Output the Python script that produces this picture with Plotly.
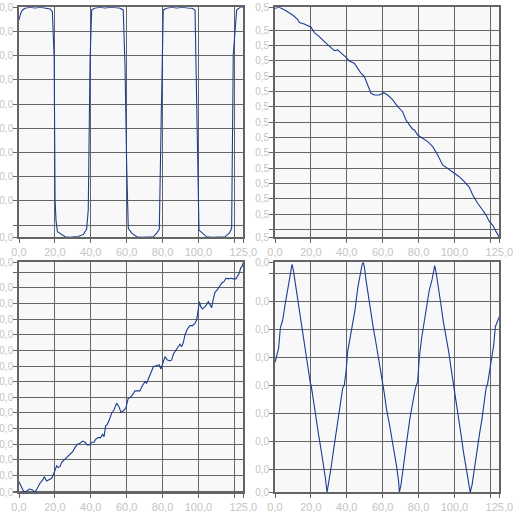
import plotly.graph_objects as go

# ---------------- data ----------------
# Top-left: square wave
sq_x = [0, 1, 2, 3.3, 6, 9, 12, 15, 17.3, 18.6, 19.6, 20.1, 20.6, 21.4, 23, 25.7, 28, 31, 33, 35.9,
        37.7, 38.6, 39.2, 39.6, 40.5, 42, 45, 48, 51, 54, 56, 58.1, 59.1, 60.0, 60.9, 62.8, 65.6, 68,
        71, 74.9, 76.7, 78.2, 79.3, 79.9, 80.4, 82.3, 85, 88, 91, 94, 96.5, 98.1, 99.0, 99.9, 100.3,
        102.7, 104.6, 108, 111, 114.8, 117.2, 118.5, 119.4, 120.4, 121.3, 123.2, 125]
sq_y = [8.98, 9.27, 9.39, 9.46, 9.5, 9.47, 9.5, 9.47, 9.43, 9.32, 7.41, 1.54, 0.72, 0.23, 0.14, 0.02,
        0.0, 0.01, 0.03, 0.12, 0.34, 1.13, 4.4, 7.32, 9.39, 9.46, 9.5, 9.47, 9.5, 9.47, 9.47, 9.39,
        7.03, 3.0, 0.37, 0.17, 0.02, 0.0, 0.02, 0.02, 0.17, 0.34, 5.13, 8.36, 9.39, 9.46, 9.5, 9.47,
        9.5, 9.47, 9.46, 9.39, 5.8, 1.0, 0.3, 0.14, 0.02, 0.0, 0.02, 0.02, 0.17, 0.37, 7.53, 8.65,
        9.39, 9.5, 9.5]

# Top-right: decreasing curve
dec_x = [0, 2.4, 6.1, 9.8, 12.6, 13.6, 16.3, 20.1, 21.9, 24.7, 27.5, 30.3, 33.1, 34.9, 37.3, 39.6,
         41.4, 44.2, 46.1, 47.9, 49.8, 51.6, 53.5, 55.4, 58.1, 60.6, 62.8, 65.6, 68.4, 71.1, 73.0,
         74.9, 76.7, 77.7, 79.5, 82.3, 85.1, 87.9, 90.7, 93.4, 96.2, 99.9, 102.7, 105.5, 108.3,
         110.2, 112.9, 115.7, 117.6, 119.5, 121.3, 123.2, 125]
dec_y = [14.94, 15.0, 14.78, 14.5, 14.22, 14.0, 13.91, 13.7, 13.35, 13.09, 12.76, 12.48, 12.17,
         12.22, 12.0, 11.74, 11.5, 11.35, 11.02, 10.7, 10.48, 9.93, 9.39, 9.28, 9.28, 9.43, 9.28,
         8.96, 8.52, 8.19, 7.65, 7.33, 7.05, 7.0, 6.67, 6.46, 6.24, 5.91, 5.37, 4.72, 4.5, 4.21,
         3.95, 3.63, 3.26, 2.76, 2.22, 1.78, 1.45, 1.02, 0.80, 0.37, 0.0]

# Bottom-left: noisy ramp
ramp_x = [0, 1.5, 2.8, 4.3, 5.8, 7.6, 8.9, 10.2, 11.7, 13.2, 14.1, 15.4, 16.9, 18.2, 19.1, 20.1,
          21.0, 21.9, 22.8, 23.8, 25.1, 26.2, 27.5, 28.8, 29.9, 31.2, 32.5, 34.0, 35.5, 36.8, 38.1,
          39.2, 40.5, 41.8, 42.9, 44.2, 45.5, 46.6, 47.4, 48.3, 49.2, 50.3, 51.6, 52.9, 54.4, 55.7,
          56.8, 58.1, 59.6, 60.9, 61.9, 63.3, 64.6, 65.9, 67.4, 68.4, 69.3, 70.2, 71.1, 72.1, 73.0,
          73.9, 74.9, 76.7, 78.2, 79.1, 80.1, 81.4, 82.7, 84.2, 85.1, 86.0, 87.5, 88.8, 89.7, 90.7,
          91.6, 92.5, 93.8, 95.3, 96.8, 98.1, 99.0, 99.9, 100.5, 101.3, 102.2, 103.1, 104.2, 105.5,
          106.4, 107.4, 108.3, 109.2, 110.5, 111.6, 112.9, 114.2, 115.4, 116.7, 118.0, 119.5,
          121.0, 121.7, 122.8, 123.5, 124.3, 125]
ramp_y = [0.68, 0.26, 0.0, 0.08, 0.21, 0.15, 0.0, 0.26, 0.58, 0.79, 1.0, 0.72, 0.79, 0.9, 1.11,
          1.43, 1.70, 1.58, 1.64, 1.92, 2.07, 2.18, 2.34, 2.5, 2.6, 2.86, 3.07, 3.14, 3.28, 3.2,
          3.03, 3.03, 3.2, 3.2, 3.41, 3.5, 3.5, 3.71, 3.56, 4.26, 4.35, 4.63, 5.06, 5.27, 5.70,
          5.48, 5.12, 5.2, 5.42, 6.02, 6.06, 6.23, 6.49, 6.49, 6.49, 6.76, 6.92, 7.08, 6.98, 7.25,
          7.51, 7.83, 8.04, 8.11, 8.15, 7.89, 8.26, 8.68, 8.47, 8.41, 8.47, 8.83, 9.11, 9.32, 9.48,
          9.32, 9.6, 10.07, 10.45, 10.67, 10.67, 10.82, 11.03, 11.67, 12.2, 11.88, 11.74, 11.82,
          11.95, 12.2, 12.04, 11.82, 12.38, 12.8, 12.95, 13.16, 13.38, 13.48, 13.7, 13.66, 13.7,
          13.66, 13.66, 13.82, 14.03, 14.35, 14.46, 14.72]

# Bottom-right: triangle wave
tri_x = [0, 0.9, 2.0, 3.0, 4.3, 5.6, 7.0, 8.0, 8.9, 9.5, 10.2, 11.7, 13.2, 14.5, 15.8, 17.3, 18.6,
         19.7, 20.1, 21.4, 22.8, 24.3, 26.0, 27.1, 28.1, 29.0, 29.9, 31.2, 32.5, 34.0, 35.5, 36.8,
         37.7, 38.6, 39.6, 40.5, 41.8, 43.3, 44.6, 46.1, 47.4, 48.5, 49.2, 49.8, 50.7, 52.2, 53.5,
         54.8, 56.3, 57.8, 59.1, 60.0, 60.9, 62.2, 63.7, 65.2, 66.5, 67.8, 68.9, 69.3, 70.2, 71.1,
         72.6, 73.9, 75.2, 76.7, 78.2, 79.5, 80.4, 81.7, 83.2, 84.5, 86.0, 87.5, 88.4, 89.0, 89.7,
         91.2, 92.5, 93.8, 95.3, 96.8, 98.1, 99.6, 100.9, 102.2, 103.7, 105.0, 106.4, 107.7, 108.8,
         109.8, 111.1, 112.6, 113.9, 115.4, 116.7, 117.6, 118.5, 119.8, 120.9, 121.9, 122.8,
         124.1, 125]
tri_y = [4.64, 4.9, 5.14, 5.88, 6.15, 6.69, 7.22, 7.64, 8.06, 8.14, 7.94, 7.29, 6.71, 6.15, 5.62,
         4.9, 4.43, 3.89, 3.83, 3.24, 2.64, 2.05, 1.39, 0.98, 0.5, 0.0, 0.32, 0.86, 1.45, 2.11,
         2.76, 3.36, 3.71, 3.83, 4.31, 5.02, 5.5, 5.91, 6.51, 7.29, 7.76, 8.12, 8.21, 8.06, 7.58,
         6.93, 6.33, 5.86, 5.32, 4.79, 4.31, 3.89, 3.54, 2.94, 2.46, 1.93, 1.45, 0.91, 0.38, 0.0,
         0.26, 0.74, 1.45, 2.05, 2.64, 3.24, 3.71, 3.95, 4.79, 5.5, 6.09, 6.69, 7.22, 7.58, 8.0,
         8.09, 7.88, 7.29, 6.69, 6.09, 5.62, 5.02, 4.43, 3.83, 3.24, 2.64, 2.05, 1.45, 0.86, 0.38,
         0.0, 0.26, 0.86, 1.45, 2.05, 2.64, 3.24, 3.71, 3.89, 4.43, 4.9, 5.26, 5.91, 6.15, 6.27]

# Axis ticks
x_tickvals = [0, 20, 40, 60, 80, 100, 120, 125]
x_ticktext = ["0,0", "20,0", "40,0", "60,0", "80,0", "100,0", "", "125,0"]

tl_tickvals = [0, 0.5, 1.5, 2.5, 3.5, 4.5, 5.5, 6.5, 7.5, 8.5, 9.5]
tl_ticktext = ["0,0", ""] + ["0,0"] * 9

tr_tickvals = [0, 0.5, 1.5, 2.5, 3.5, 4.5, 5.5, 6.5, 7.5, 8.5, 9.5, 10.5, 11.5, 12.5, 13.5, 15]
tr_ticktext = ["0,5", ""] + ["0,5"] * 14

bl_tickvals = [0, 0.08, 1.08, 2.08, 3.08, 4.08, 5.08, 6.08, 7.08, 8.08, 9.08, 10.08, 11.08,
               12.08, 13.08, 14.08, 14.72]
bl_ticktext = ["0,0", ""] + ["0,0"] * 13 + ["", "0,0"]

br_tickvals = [0, 0.82, 1.82, 2.82, 3.82, 4.82, 5.82, 6.82, 7.82, 8.21]
br_ticktext = ["0,0"] * 8 + ["", "0,0"]

# ---------------- figure ----------------
W, H = 513, 512
LINE = "#1d3c94"
GRID = "#646464"
LABEL = "#c4c4c4"
XFONT = dict(family="Liberation Sans, Arial, sans-serif", size=11, color=LABEL)
YFONT = dict(family="Liberation Sans, Arial, sans-serif", size=10, color=LABEL)

xdom_left = [19 / W, 243.3 / W]
xdom_right = [275 / W, 499.3 / W]
ydom_top = [1 - 237.3 / H, 1 - 7.3 / H]
ydom_bot = [1 - 492.3 / H, 1 - 262.3 / H]

fig = go.Figure()
series = [(sq_x, sq_y, "x", "y"), (dec_x, dec_y, "x2", "y2"),
          (ramp_x, ramp_y, "x3", "y3"), (tri_x, tri_y, "x4", "y4")]
for xs, ys, xa, ya in series:
    fig.add_trace(go.Scatter(x=xs, y=ys, mode="lines", xaxis=xa, yaxis=ya,
                             line=dict(color=LINE, width=1.1), showlegend=False,
                             hoverinfo="skip", cliponaxis=False))

COMMON = dict(showgrid=True, gridcolor=GRID, gridwidth=1.4, showline=True, linecolor=GRID,
              linewidth=1.6, mirror=True, ticks="outside", ticklen=4, tickwidth=1.4,
              tickcolor=GRID, zeroline=False, fixedrange=True,
              automargin=False, tickmode="array", ticklabeloverflow="allow")

def xax(dom, anchor):
    return dict(domain=dom, anchor=anchor, range=[0, 125], tickvals=x_tickvals,
                ticktext=x_ticktext, tickfont=XFONT, **COMMON)

def yax(dom, anchor, rng, tv, tt):
    return dict(domain=dom, anchor=anchor, range=rng, tickvals=tv, ticktext=tt,
                ticklabelstandoff=-2, tickfont=YFONT, **COMMON)

fig.update_layout(
    width=W, height=H, margin=dict(l=0, r=0, t=0, b=0, autoexpand=False),
    paper_bgcolor="#ffffff", plot_bgcolor="#f8f8f8", showlegend=False,
    xaxis=xax(xdom_left, "y"),
    yaxis=yax(ydom_top, "x", [0, 9.5], tl_tickvals, tl_ticktext),
    xaxis2=xax(xdom_right, "y2"),
    yaxis2=yax(ydom_top, "x2", [0, 15], tr_tickvals, tr_ticktext),
    xaxis3=xax(xdom_left, "y3"),
    yaxis3=yax(ydom_bot, "x3", [0, 14.72], bl_tickvals, bl_ticktext),
    xaxis4=xax(xdom_right, "y4"),
    yaxis4=yax(ydom_bot, "x4", [0, 8.21], br_tickvals, br_ticktext),
)

fig.write_html(
    "out.html",
    config={"displayModeBar": False},
    post_script="document.body.style.margin='0';document.body.style.padding='0';"
                "document.body.style.overflow='hidden';",
)
